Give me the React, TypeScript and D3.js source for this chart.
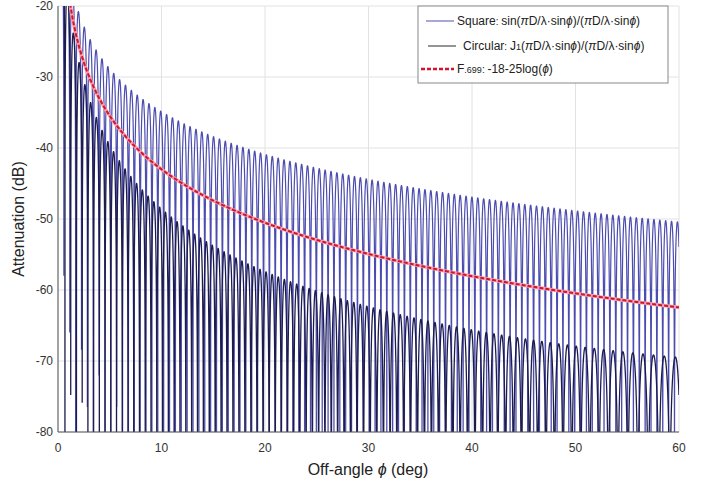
import React, { useMemo } from 'react'
import * as d3 from 'd3'

// axis ranges and ticks
const angleRange = [0, 60]
const dbRange = [-80, -20]
const xTicks = [0, 10, 20, 30, 40, 50, 60]
const yTicks = [-20, -30, -40, -50, -60, -70, -80]

// aperture D/lambda read from lobe spacing (square, circular)
const apertureRatio = [101, 104]
// F.699 envelope coefficients from the legend: a + b*log(phi)
const f699Coeffs = [-18, -25]

const seriesNames = ['Square', 'Circular', 'F.699']
const seriesColors = ['#4c4cb0', '#1c1c4e', '#d0152e']
const legendLineColors = ['#8a8acc', '#707070', '#d0152e']

const width = 704
const height = 490
const margin = { left: 58, right: 25, top: 6, bottom: 58 }

// Bessel J1 (Numerical Recipes approximation)
const besselJ1 = (x: number) => {
    const ax = Math.abs(x)
    let ans
    if (ax < 8) {
        const y = x * x
        const a1 = x * (72362614232.0 + y * (-7895059235.0 + y * (242396853.1 + y * (-2972611.439 + y * (15704.4826 + y * -30.16036606)))))
        const a2 = 144725228442.0 + y * (2300535178.0 + y * (18583304.74 + y * (99447.43394 + y * (376.9991397 + y))))
        ans = a1 / a2
    } else {
        const z = 8 / ax
        const y = z * z
        const xx = ax - 2.356194491
        const a1 = 1.0 + y * (0.183105e-2 + y * (-0.3516396496e-4 + y * (0.2457520174e-5 + y * -0.240337019e-6)))
        const a2 = 0.04687499995 + y * (-0.2002690873e-3 + y * (0.8449199096e-5 + y * (-0.88228987e-6 + y * 0.105787412e-6)))
        ans = Math.sqrt(0.636619772 / ax) * (Math.cos(xx) * a1 - z * Math.sin(xx) * a2)
        if (x < 0) ans = -ans
    }
    return ans
}

const toDb = (v: number) => Math.max(dbRange[0] - 5, 20 * Math.log10(Math.abs(v) + 1e-12))

export default function App() {
    const x = d3.scaleLinear().domain(angleRange).range([margin.left, width - margin.right])
    const y = d3.scaleLinear().domain(dbRange).range([height - margin.bottom, margin.top])

    const paths = useMemo(() => {
        const step = 0.002
        const angles = d3.range(angleRange[0], angleRange[1] + step / 2, step)
        const rad = (a: number) => (a * Math.PI) / 180
        const square = angles.map(a => {
            const u = Math.PI * apertureRatio[0] * rad(a)
            return [a, u === 0 ? 0 : toDb(Math.sin(u) / u)]
        })
        const circular = angles.map(a => {
            const u = Math.PI * apertureRatio[1] * Math.sin(rad(a))
            return [a, u === 0 ? 0 : toDb((2 * besselJ1(u)) / u)]
        })
        const f699 = d3.range(1, 60.001, 0.05).map(a => [a, f699Coeffs[0] + f699Coeffs[1] * Math.log10(a)])
        const line = d3.line<number[]>().x(d => x(d[0])).y(d => y(d[1]))
        return [line(square), line(circular), line(f699)]
    }, [])

    const plotW = width - margin.left - margin.right
    const plotH = height - margin.top - margin.bottom
    const font = 'Liberation Sans, Arial, sans-serif'

    const lx = 418, ly = 6, lw = 250, lh = 77
    const rowY = [ly + 15, ly + 40, ly + 63]

    return (
        <div style={{ position: 'absolute', left: 0, top: 0, width, height, background: '#fff' }}>
            <svg width={width} height={height} style={{ display: 'block' }}>
                <defs>
                    <clipPath id="plotClip">
                        <rect x={margin.left} y={margin.top} width={plotW} height={plotH} />
                    </clipPath>
                </defs>
                <rect x={0} y={0} width={width} height={height} fill="#fff" />
                {/* grid */}
                {xTicks.map(t => (
                    <line key={'gx' + t} x1={x(t)} x2={x(t)} y1={margin.top} y2={height - margin.bottom}
                        stroke="#e2e2e2" strokeWidth={1} />
                ))}
                {yTicks.map(t => (
                    <line key={'gy' + t} x1={margin.left} x2={width - margin.right} y1={y(t)} y2={y(t)}
                        stroke="#e2e2e2" strokeWidth={1} />
                ))}
                <g clipPath="url(#plotClip)" fill="none">
                    <path d={paths[0] || ''} stroke={seriesColors[0]} strokeWidth={1.2} />
                    <path d={paths[1] || ''} stroke={seriesColors[1]} strokeWidth={1.3} />
                    <path d={paths[2] || ''} stroke="#f7a0b0" strokeWidth={3.5} />
                    <path d={paths[2] || ''} stroke={seriesColors[2]} strokeWidth={2} strokeDasharray="4,2" />
                </g>
                {/* axes */}
                <line x1={margin.left} x2={margin.left} y1={margin.top} y2={height - margin.bottom} stroke="#555" />
                <line x1={margin.left} x2={width - margin.right} y1={height - margin.bottom} y2={height - margin.bottom} stroke="#555" />
                {yTicks.map(t => (
                    <text key={'ty' + t} x={margin.left - 5} y={y(t)} dy="0.35em" textAnchor="end"
                        fontFamily={font} fontSize={12} fill="#333">{t}</text>
                ))}
                {xTicks.map(t => (
                    <text key={'tx' + t} x={x(t)} y={height - margin.bottom + 20} textAnchor="middle"
                        fontFamily={font} fontSize={12} fill="#333">{t}</text>
                ))}
                <text x={368} y={475} textAnchor="middle" fontFamily={font} fontSize={16} fill="#222">
                    Off-angle <tspan fontStyle="italic">ϕ</tspan> (deg)
                </text>
                <text transform={`translate(24, ${margin.top + plotH / 2}) rotate(-90)`} textAnchor="middle"
                    fontFamily={font} fontSize={16} fill="#222">Attenuation (dB)</text>
                {/* legend */}
                <rect x={lx} y={ly} width={lw} height={lh} fill="#fff" stroke="#888" strokeWidth={1} />
                <line x1={lx + 8} x2={lx + 36} y1={rowY[0]} y2={rowY[0]} stroke={legendLineColors[0]} strokeWidth={1.5} />
                <line x1={lx + 10} x2={lx + 38} y1={rowY[1]} y2={rowY[1]} stroke={legendLineColors[1]} strokeWidth={1.5} />
                <line x1={lx + 3} x2={lx + 36} y1={rowY[2]} y2={rowY[2]} stroke={legendLineColors[2]} strokeWidth={2.5} strokeDasharray="4,2" />
                <text x={lx + 39} y={rowY[0]} dy="0.35em" fontFamily={font} fontSize={12} fill="#222">
                    {seriesNames[0]}<tspan fontSize={10}>: </tspan>sin(<tspan fontStyle="italic">π</tspan>D/λ·sin<tspan fontStyle="italic">ϕ</tspan>)/(<tspan fontStyle="italic">π</tspan>D/λ·sin<tspan fontStyle="italic">ϕ</tspan>)
                </text>
                <text x={lx + 45} y={rowY[1]} dy="0.35em" fontFamily={font} fontSize={12} fill="#222">
                    {seriesNames[1]}<tspan fontSize={10}>: </tspan>J<tspan fontSize={9}>1</tspan>(<tspan fontStyle="italic">π</tspan>D/λ·sin<tspan fontStyle="italic">ϕ</tspan>)/(<tspan fontStyle="italic">π</tspan>D/λ·sin<tspan fontStyle="italic">ϕ</tspan>)
                </text>
                <text x={lx + 39} y={rowY[2]} dy="0.35em" fontFamily={font} fontSize={12} fill="#222">
                    F<tspan fontSize={9}>.699</tspan><tspan fontSize={10}>: </tspan>-18-25log(<tspan fontStyle="italic">ϕ</tspan>)
                </text>
            </svg>
        </div>
    )
}
